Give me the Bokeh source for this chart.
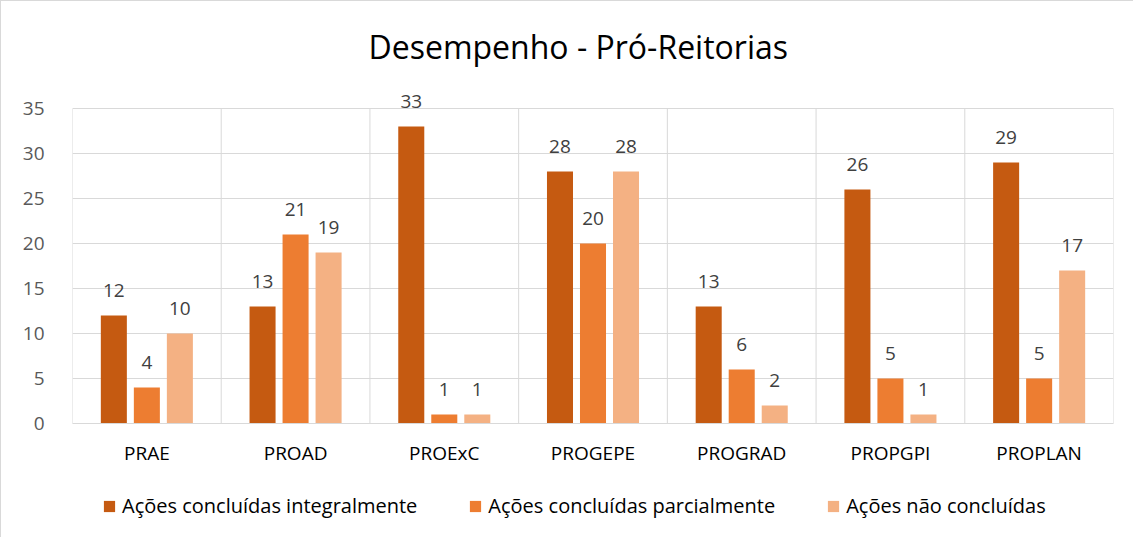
from bokeh.plotting import figure
from bokeh.models import ColumnDataSource, FixedTicker, LabelSet, Legend, LegendItem, Range1d, Title
from bokeh.layouts import column
from bokeh.core.properties import value
from bokeh.transform import dodge
from bokeh.embed import file_html
from bokeh.resources import INLINE

categories = ["PRAE", "PROAD", "PROExC", "PROGEPE", "PROGRAD", "PROPGPI", "PROPLAN"]
integral = [12, 13, 33, 28, 13, 26, 29]
parcial = [4, 21, 1, 20, 6, 5, 5]
nao = [10, 19, 1, 28, 2, 1, 17]
series_names = ["Ações concluídas integralmente", "Ações concluídas parcialmente", "Ações não concluídas"]
colors = ["#C55A11", "#ED7D31", "#F4B183"]
y_ticks = [0, 5, 10, 15, 20, 25, 30, 35]
title_text = "Desempenho - Pró-Reitorias"

FONT = "Open Sans"
GRID = "#D9D9D9"
xs = [i + 0.5 for i in range(len(categories))]
src = ColumnDataSource(dict(x=xs, cat=categories, s0=integral, s1=parcial, s2=nao,
                            l0=[str(v) for v in integral], l1=[str(v) for v in parcial],
                            l2=[str(v) for v in nao]))

y_top = y_ticks[-1]
p = figure(width=1133, height=470, output_backend="svg", toolbar_location=None, title=None,
           x_range=Range1d(0, len(categories)), y_range=Range1d(0, y_top + 1.555),
           min_border_left=71, min_border_right=21, min_border_top=93, min_border_bottom=48)
p.styles = {"border-left": "1px solid #D9D9D9", "border-top": "1px solid #D9D9D9"}
p.outline_line_color = None
p.background_fill_color = "white"
p.border_fill_color = "white"

# spacer title (closest to the frame), then the real title above it
p.add_layout(Title(text=" ", text_font_size="9px"), "above")
p.add_layout(Title(text=title_text, align="left", offset=296, text_font=FONT,
                   text_font_style="normal", text_font_size="32px", text_color="#000000"), "above")

# category separators (vertical grid lines from 0 to the top tick)
bounds = list(range(len(categories) + 1))
p.segment(x0=bounds, x1=bounds, y0=[y_ticks[0]] * len(bounds), y1=[y_top] * len(bounds),
          line_color=GRID, line_width=1)

offsets = [-0.222, 0.0, 0.222]
bw = 0.175
for k in range(3):
    p.vbar(x=dodge("x", offsets[k]), top="s%d" % k, width=bw, source=src,
           fill_color=colors[k], line_color=None)
    lab = LabelSet(x=dodge("x", offsets[k]), y="s%d" % k, text="l%d" % k, source=src,
                   text_align="center", text_baseline="bottom", y_offset=18,
                   text_font=value(FONT), text_font_size="19px", text_color="#404040")
    p.add_layout(lab)

# axes
p.yaxis.ticker = FixedTicker(ticks=y_ticks)
p.yaxis.axis_line_color = None
p.yaxis.major_tick_line_color = None
p.yaxis.minor_tick_line_color = None
p.yaxis.major_label_standoff = 22
p.yaxis.major_label_text_font = FONT
p.yaxis.major_label_text_font_size = "19px"
p.yaxis.major_label_text_color = "#595959"

p.xaxis.ticker = FixedTicker(ticks=xs)
p.xaxis.major_label_overrides = {x: c for x, c in zip(xs, categories)}
p.xaxis.axis_line_color = GRID
p.xaxis.major_tick_line_color = None
p.xaxis.minor_tick_line_color = None
p.xaxis.major_label_standoff = 10
p.xaxis.major_label_text_font = FONT
p.xaxis.major_label_text_font_size = "19px"
p.xaxis.major_label_text_color = "#000000"

p.xgrid.visible = False
p.ygrid.ticker = FixedTicker(ticks=y_ticks)
p.ygrid.grid_line_color = GRID

# legend strip below the chart
lf = figure(width=1133, height=67, output_backend="svg", toolbar_location=None,
            x_axis_type=None, y_axis_type=None, x_range=Range1d(0, 1), y_range=Range1d(0, 1),
            min_border=0)
lf.styles = {"border-left": "1px solid #D9D9D9"}
lf.outline_line_color = None
lf.xgrid.visible = False
lf.ygrid.visible = False
lf.border_fill_color = "white"
leg_renderers = [lf.vbar(x="x", top="s%d" % k, width=bw, source=src, fill_color=colors[k],
                         line_color=None, visible=False) for k in range(3)]
legend = Legend(items=[LegendItem(label=series_names[k], renderers=[leg_renderers[k]]) for k in range(3)],
                orientation="horizontal", location=(30, 18))
legend.border_line_color = None
legend.background_fill_alpha = 0
legend.inactive_fill_alpha = 0
legend.padding = 0
legend.margin = 0
legend.spacing = 51
legend.glyph_width = 14
legend.glyph_height = 14
legend.label_standoff = 6
legend.label_text_font = FONT
legend.label_text_font_size = "20px"
legend.label_text_color = "#000000"
lf.add_layout(legend, "center")

layout = column(p, lf, spacing=0)
open("out.html", "w").write(file_html(layout, INLINE))
